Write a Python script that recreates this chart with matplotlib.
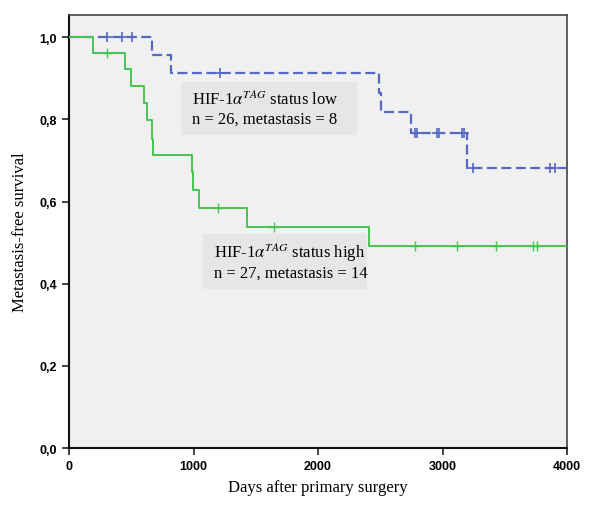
import numpy as np
import matplotlib
matplotlib.use("Agg")
from matplotlib import pyplot as plt
from matplotlib.patches import Rectangle

plt.rcParams['mathtext.fontset'] = 'stix'

# Kaplan-Meier steps
low_times = [0, 664, 819, 2490, 2506, 2747, 3199, 4000]
low_surv = [1.0, 0.957, 0.914, 0.863, 0.817, 0.768, 0.681, 0.681]
low_censored = [303, 423, 508, 1213, 2779, 2797, 2953, 2974, 3154, 3170, 3247, 3863, 3903]

high_times = [0, 195, 452, 498, 600, 627, 669, 677, 985, 998, 1044, 1427, 2410, 4000]
high_surv = [1.0, 0.961, 0.923, 0.880, 0.839, 0.798, 0.752, 0.713, 0.671, 0.628, 0.585, 0.538, 0.492, 0.492]
high_censored = [303, 1200, 1647, 2779, 3114, 3427, 3729, 3761]

x_ticks = [0, 1000, 2000, 3000, 4000]
y_ticks = [0.0, 0.2, 0.4, 0.6, 0.8, 1.0]
y_tick_labels = ["0,0", "0,2", "0,4", "0,6", "0,8", "1,0"]

blue = "#5468c4"
green = "#46c450"
serif = "Liberation Serif"


def surv_at(times, surv, t):
    i = np.searchsorted(times, t, side="right") - 1
    return np.asarray(surv)[i]


fig = plt.figure(figsize=(6, 5.1), dpi=100)
ax = fig.add_axes([0.115, 0.1196, 0.83, 0.849])
ax.set_facecolor("#f0f0f0")

# annotation boxes sit under the curves
ax.add_patch(Rectangle((0.225, 0.723), 0.353, 0.122, transform=ax.transAxes,
                       fc="#e6e6e6", ec="none", zorder=1))
ax.add_patch(Rectangle((0.269, 0.367), 0.329, 0.127, transform=ax.transAxes,
                       fc="#e6e6e6", ec="none", zorder=1))
ax.text(0.247, 0.786, "HIF-1$\\alpha^{TAG}$ status low\nn = 26, metastasis = 8",
        transform=ax.transAxes, family=serif, fontsize=12, va="center",
        linespacing=1.2, zorder=1.5)
ax.text(0.291, 0.433, "HIF-1$\\alpha^{TAG}$ status high\nn = 27, metastasis = 14",
        transform=ax.transAxes, family=serif, fontsize=12, va="center",
        linespacing=1.2, zorder=1.5)

ax.step(low_times, low_surv, where="post", color=blue, lw=1.6,
        linestyle=(0, (4.5, 2)), zorder=3)
ax.plot(low_censored, surv_at(low_times, low_surv, low_censored), "+",
        color=blue, ms=7, mew=1.2, zorder=3)

ax.step(high_times, high_surv, where="post", color=green, lw=1.4, zorder=3)
ax.plot(high_censored, surv_at(high_times, high_surv, high_censored), "+",
        color=green, ms=7, mew=1.0, zorder=3)

ax.set_xlim(0, 4000)
ax.set_ylim(0, 1.054)
ax.set_xticks(x_ticks)
ax.set_yticks(y_ticks)
ax.set_yticklabels(y_tick_labels)
for lab in ax.get_xticklabels() + ax.get_yticklabels():
    lab.set_family("Liberation Sans")
    lab.set_fontsize(9)
    lab.set_fontweight("bold")
ax.tick_params(direction="out", length=5, width=1.2, color="#222222")

ax.set_xlabel("Days after primary surgery", family=serif, fontsize=12, labelpad=5)
ax.set_ylabel("Metastasis-free survival", family=serif, fontsize=12, labelpad=8)

for side in ["left", "bottom"]:
    ax.spines[side].set_linewidth(1.5)
    ax.spines[side].set_color("#111111")
for side in ["top", "right"]:
    ax.spines[side].set_linewidth(1.2)
    ax.spines[side].set_color("#444444")

fig.savefig("out.png", dpi=100)
